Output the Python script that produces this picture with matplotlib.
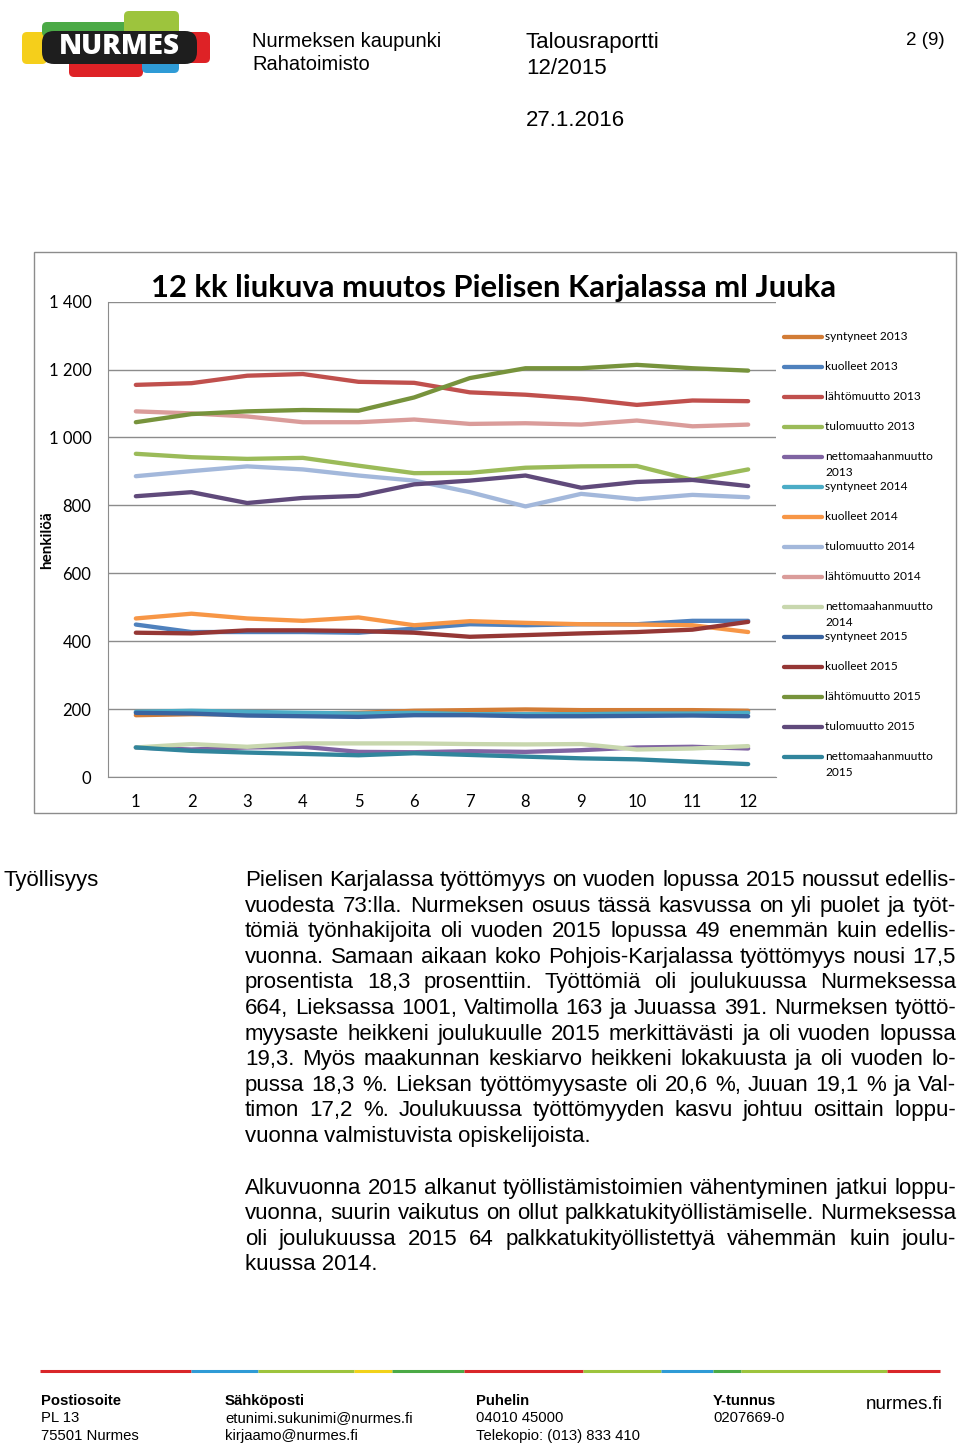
import matplotlib
matplotlib.use("Agg")
import matplotlib.pyplot as plt
from matplotlib.patches import Rectangle, FancyBboxPatch
from matplotlib.lines import Line2D

# kuukaudet 1..12
months = list(range(1, 13))

# 12 kk liukuva muutos, henkilöä (luettu kuvasta)
syntyneet_2013 = [182, 185, 185, 187, 189, 195, 197, 199, 197, 197, 197, 195]
kuolleet_2013 = [449, 427, 427, 427, 425, 437, 450, 447, 450, 450, 460, 460]
lahtomuutto_2013 = [1155, 1160, 1182, 1187, 1164, 1161, 1133, 1126, 1114, 1096, 1109, 1107]
tulomuutto_2013 = [952, 942, 937, 940, 917, 895, 896, 911, 915, 916, 875, 906]
netto_2013 = [87, 81, 87, 89, 74, 73, 76, 74, 79, 87, 89, 84]
syntyneet_2014 = [192, 195, 192, 189, 187, 189, 185, 185, 185, 187, 187, 189]
kuolleet_2014 = [467, 481, 467, 460, 470, 447, 459, 454, 450, 449, 447, 427]
tulomuutto_2014 = [886, 901, 915, 906, 888, 873, 839, 797, 834, 818, 831, 824]
lahtomuutto_2014 = [1077, 1071, 1062, 1045, 1045, 1053, 1040, 1042, 1038, 1050, 1033, 1038]
netto_2014 = [87, 97, 89, 99, 99, 99, 97, 96, 97, 81, 84, 91]
syntyneet_2015 = [189, 187, 181, 179, 177, 182, 182, 179, 179, 180, 181, 179]
kuolleet_2015 = [425, 423, 432, 432, 430, 425, 413, 418, 423, 427, 434, 457]
lahtomuutto_2015 = [1045, 1069, 1077, 1081, 1079, 1118, 1175, 1204, 1204, 1214, 1204, 1197]
tulomuutto_2015 = [827, 839, 807, 822, 828, 862, 873, 888, 852, 869, 875, 857]
netto_2015 = [87, 77, 72, 68, 64, 70, 65, 60, 55, 52, 45, 38]

labels = ["syntyneet 2013", "kuolleet 2013", "lähtömuutto 2013", "tulomuutto 2013",
          "nettomaahanmuutto\n2013", "syntyneet 2014", "kuolleet 2014", "tulomuutto 2014",
          "lähtömuutto 2014", "nettomaahanmuutto\n2014", "syntyneet 2015", "kuolleet 2015",
          "lähtömuutto 2015", "tulomuutto 2015", "nettomaahanmuutto\n2015"]
series = [syntyneet_2013, kuolleet_2013, lahtomuutto_2013, tulomuutto_2013, netto_2013,
          syntyneet_2014, kuolleet_2014, tulomuutto_2014, lahtomuutto_2014, netto_2014,
          syntyneet_2015, kuolleet_2015, lahtomuutto_2015, tulomuutto_2015, netto_2015]
colors = ["#D27C36", "#4F81BD", "#C0504D", "#9BBB59", "#8064A2",
          "#4BACC6", "#F79646", "#A3B8DB", "#DA9C9A", "#C8D7AE",
          "#3A64A0", "#953735", "#77933C", "#604A7B", "#31859C"]

yticks = [0, 200, 400, 600, 800, 1000, 1200, 1400]

body_font = "Liberation Sans"
chart_font = "Lato"

fig = plt.figure(figsize=(9.6, 14.46), dpi=100)

# sivu pikselikoordinaateissa
page = fig.add_axes([0, 0, 1, 1], zorder=0)
page.set_xlim(0, 960)
page.set_ylim(1446, 0)
page.axis("off")

# --- logo ---
logo_parts = [
    (22, 32, 25, 32, "#F5CF1B"),
    (42, 22, 88, 15, "#4BAA46"),
    (124, 11, 55, 26, "#9DC43D"),
    (69, 57, 74, 20, "#DE2226"),
    (142, 57, 37, 16, "#2F9BD6"),
    (185, 32, 25, 31, "#DE2226"),
]
for x, y, w, h, c in logo_parts:
    page.add_patch(FancyBboxPatch((x, y), w, h, boxstyle="round,pad=0,rounding_size=5",
                                  fc=c, ec="none"))
page.add_patch(FancyBboxPatch((42, 31), 155, 33, boxstyle="round,pad=0,rounding_size=12",
                              fc="#1E1E1E", ec="none"))
page.text(119, 47, "NURMES", color="white", fontsize=20, fontweight="heavy",
          family="Open Sans", ha="center", va="center")

# --- ylätunniste ---
page.text(252, 47, "Nurmeksen kaupunki", fontsize=14.5, family=body_font)
page.text(252, 70, "Rahatoimisto", fontsize=14.5, family=body_font)
page.text(526, 48, "Talousraportti", fontsize=16, family=body_font)
page.text(526, 74, "12/2015", fontsize=16, family=body_font)
page.text(526, 126, "27.1.2016", fontsize=16, family=body_font)
page.text(945, 45, "2 (9)", fontsize=13.5, family=body_font, ha="right")

# --- kaavion kehys ---
page.add_patch(Rectangle((34, 252), 922, 561, fc="white", ec="#8C8C8C", lw=1))
page.text(494, 288, "12 kk liukuva muutos Pielisen Karjalassa ml Juuka", fontsize=22.3,
          fontweight="bold", family=chart_font, ha="center", va="center")
page.text(47, 540, "henkilöä", fontsize=11, fontweight="bold", family=chart_font,
          rotation=90, ha="center", va="center")

ax = fig.add_axes([108 / 960, 1 - 777 / 1446, 668 / 960, (777 - 301.7) / 1446], zorder=2)
ax.patch.set_alpha(0)
for s, c in zip(series, colors):
    ax.plot(months, s, color=c, lw=3.1, solid_joinstyle="round", solid_capstyle="round")
ax.set_xlim(0.5, 12.5)
ax.set_ylim(0, 1400)
ax.set_xticks(months)
ax.set_yticks(yticks)
ax.set_yticklabels([f"{v:,}".replace(",", " ") for v in yticks])
ax.grid(axis="y", color="#8C8C8C", lw=1)
ax.set_axisbelow(True)
ax.tick_params(length=0, labelsize=12, pad=12)
for lab in ax.get_xticklabels() + ax.get_yticklabels():
    lab.set_family(chart_font)
for side in ["top", "right"]:
    ax.spines[side].set_visible(False)
for side in ["left", "bottom"]:
    ax.spines[side].set_color("#8C8C8C")

# selite käsin, 30 px välein
for i, (lab, c) in enumerate(zip(labels, colors)):
    y = 337 + 30 * i
    page.add_line(Line2D([784, 822], [y, y], color=c, lw=3.1, solid_capstyle="round"))
    for j, part in enumerate(lab.split("\n")):
        page.text(825, y + 16 * j, part, fontsize=8.6, family=chart_font, va="center")

# --- leipäteksti, tasattu ---
renderer = fig.canvas.get_renderer()


def justified(lines, x0, x1, y0, step, size):
    for i, line in enumerate(lines):
        y = y0 + i * step
        if i == len(lines) - 1:
            page.text(x0, y, line, fontsize=size, family=body_font, va="baseline")
            continue
        words = line.split()
        texts = [page.text(0, y, w, fontsize=size, family=body_font, va="baseline") for w in words]
        widths = [t.get_window_extent(renderer).width for t in texts]
        gap = (x1 - x0 - sum(widths)) / (len(words) - 1)
        x = x0
        for t, w in zip(texts, widths):
            t.set_x(x)
            x += w + gap


para1 = [
    "Pielisen Karjalassa työttömyys on vuoden lopussa 2015 noussut edellis-",
    "vuodesta 73:lla. Nurmeksen osuus tässä kasvussa on yli puolet ja työt-",
    "tömiä työnhakijoita oli vuoden 2015 lopussa 49 enemmän kuin edellis-",
    "vuonna. Samaan aikaan koko Pohjois-Karjalassa työttömyys nousi 17,5",
    "prosentista 18,3 prosenttiin. Työttömiä oli joulukuussa Nurmeksessa",
    "664, Lieksassa 1001, Valtimolla 163 ja Juuassa 391. Nurmeksen työttö-",
    "myysaste heikkeni joulukuulle 2015 merkittävästi ja oli vuoden lopussa",
    "19,3. Myös maakunnan keskiarvo heikkeni lokakuusta ja oli vuoden lo-",
    "pussa 18,3 %.  Lieksan työttömyysaste oli 20,6 %, Juuan 19,1 % ja Val-",
    "timon 17,2 %. Joulukuussa työttömyyden kasvu johtuu osittain loppu-",
    "vuonna valmistuvista opiskelijoista.",
]
para2 = [
    "Alkuvuonna 2015 alkanut työllistämistoimien vähentyminen jatkui loppu-",
    "vuonna, suurin vaikutus on ollut palkkatukityöllistämiselle. Nurmeksessa",
    "oli joulukuussa 2015 64 palkkatukityöllistettyä vähemmän kuin joulu-",
    "kuussa 2014.",
]
page.text(3, 886, "Työllisyys", fontsize=16, family=body_font, va="baseline")
justified(para1, 245, 956, 886, 25.6, 16)
justified(para2, 245, 956, 1194, 25.4, 16)

# --- alatunniste ---
stripe = [(40, 191, "#D9262A"), (191, 258, "#2F9BD6"), (258, 354, "#9DC43D"),
          (354, 392, "#F2D21A"), (392, 464, "#4BAA46"), (464, 583, "#D9262A"),
          (583, 661, "#9DC43D"), (661, 713, "#2F9BD6"), (713, 741, "#4BAA46"),
          (741, 887, "#9DC43D"), (887, 940, "#D9262A")]
for xa, xb, c in stripe:
    page.add_line(Line2D([xa, xb], [1371, 1371], color=c, lw=2.2, solid_capstyle="butt"))

footer = [
    (41, ["Postiosoite", "PL 13", "75501 Nurmes"]),
    (225, ["Sähköposti", "etunimi.sukunimi@nurmes.fi", "kirjaamo@nurmes.fi"]),
    (476, ["Puhelin", "04010 45000", "Telekopio: (013) 833 410"]),
    (713, ["Y-tunnus", "0207669-0"]),
]
for x, rows in footer:
    for j, row in enumerate(rows):
        page.text(x, 1405 + 17.5 * j, row, fontsize=10.7, family=body_font, va="baseline",
                  fontweight="bold" if j == 0 else "normal")
page.text(943, 1409, "nurmes.fi", fontsize=13.5, family=body_font, ha="right", va="baseline")

fig.savefig("out.png", dpi=100)
